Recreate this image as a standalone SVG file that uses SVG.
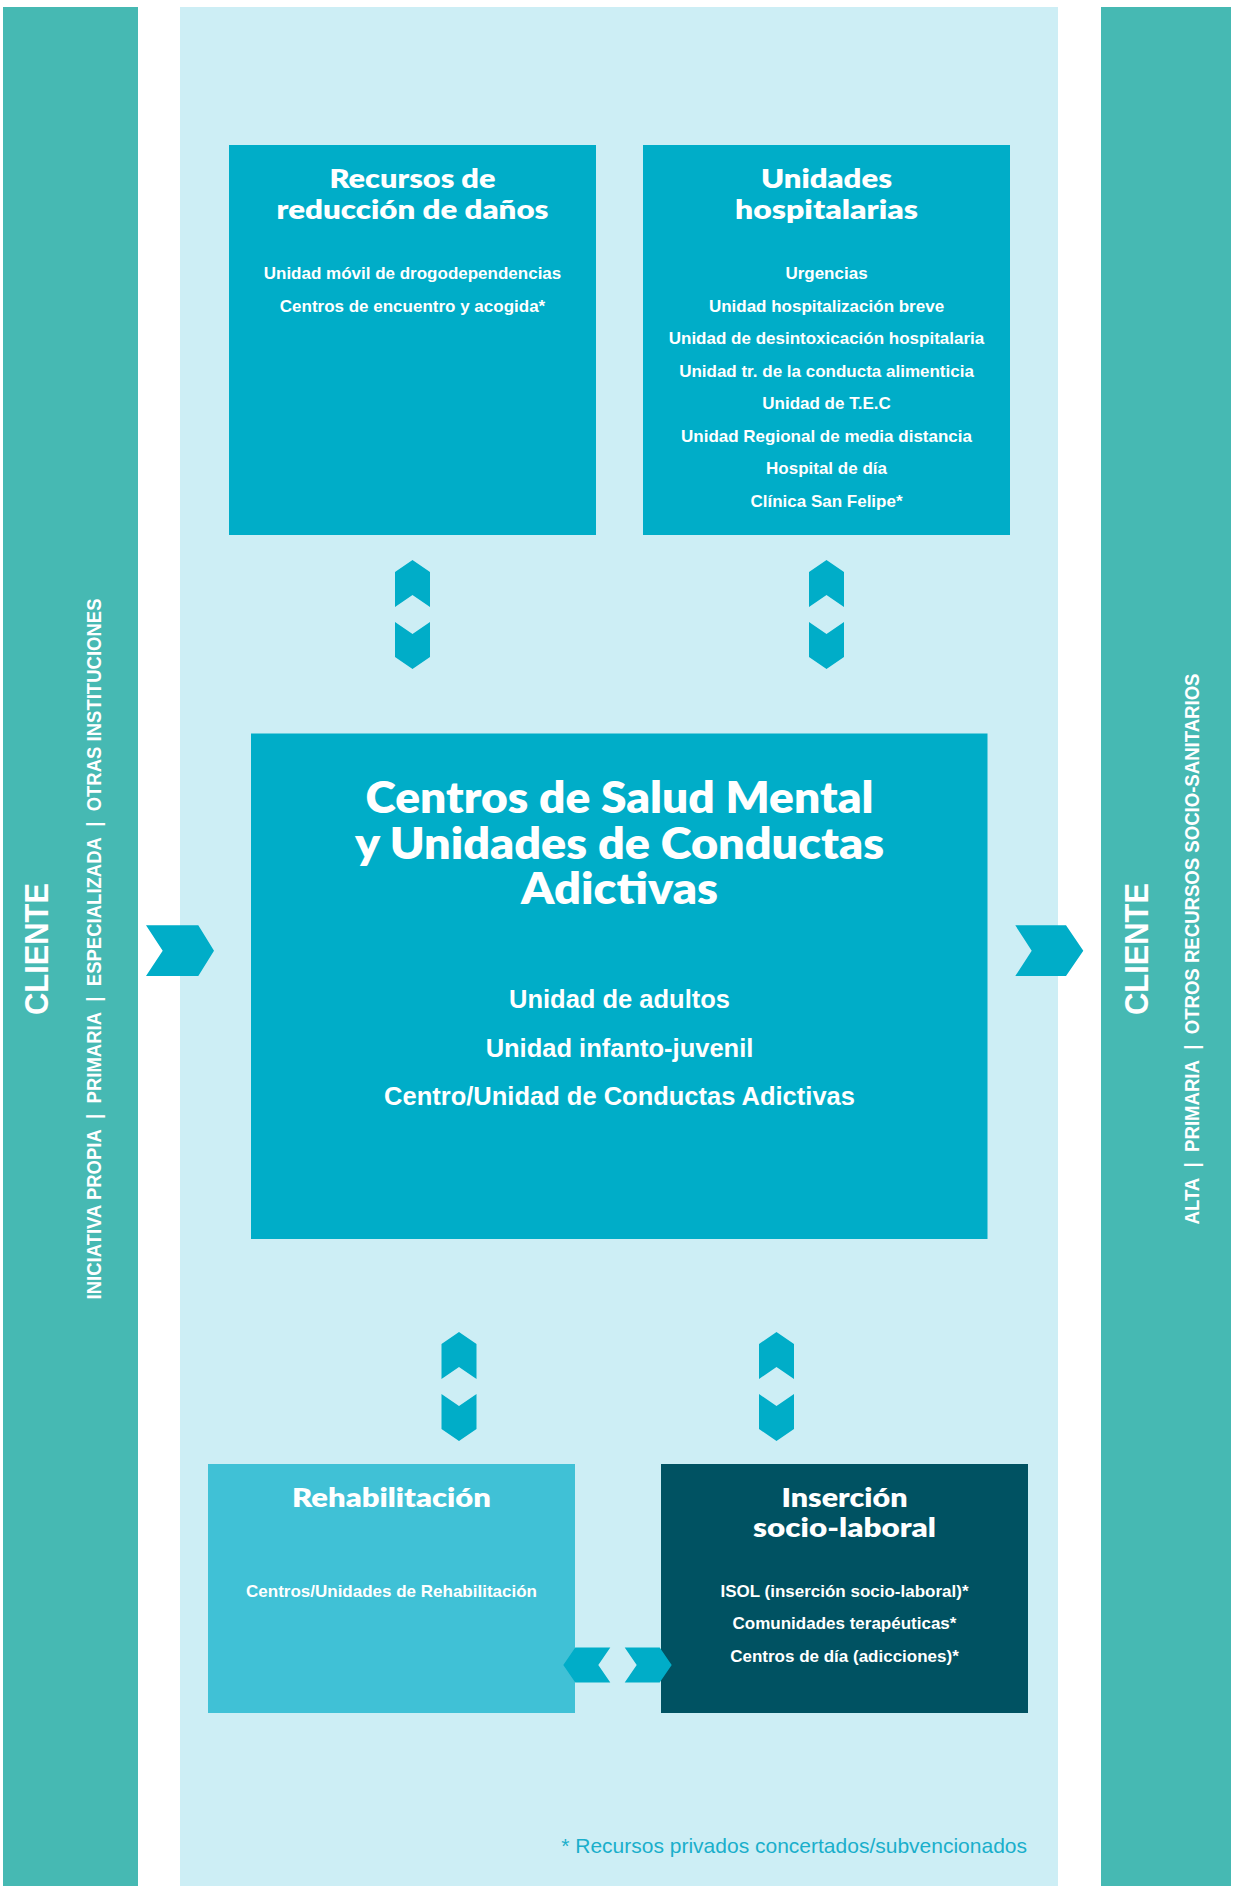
<svg xmlns="http://www.w3.org/2000/svg" width="1234" height="1886" viewBox="0 0 1234 1886">
<style>
.bar{fill:#46B9B3}
.bg{fill:#CDEEF5}
.box{fill:#00ADC8}
.rehab{fill:#40C1D6}
.dark{fill:#005262}
.chev{fill:#00ADC8}
.t{font-family:Lato,"DejaVu Sans",sans-serif;font-weight:800;fill:#fff;text-anchor:middle}
.i{font-family:"Liberation Sans",Arial,sans-serif;font-weight:bold;fill:#fff;text-anchor:middle;font-size:17px}
.ic{font-family:"Liberation Sans",Arial,sans-serif;font-weight:bold;fill:#fff;text-anchor:middle;font-size:25.5px}
.v{font-family:"Liberation Sans",Arial,sans-serif;font-weight:bold;fill:#fff;text-anchor:middle}
.fn{font-family:"Liberation Sans",Arial,sans-serif;fill:#1AAFCB;text-anchor:end;font-size:21px}
</style>
<defs>
<polygon id="up" points="0,0 17.5,12 17.5,47 0,35 -17.5,47 -17.5,12"/>
<polygon id="down" points="-17.5,0 0,12 17.5,0 17.5,35 0,47 -17.5,35"/>
<polygon id="left" points="0,0 12,-17.5 47,-17.5 35,0 47,17.5 12,17.5"/>
<polygon id="right" points="0,0 -12,-17.5 -47,-17.5 -35,0 -47,17.5 -12,17.5"/>
</defs>
<rect width="1234" height="1886" fill="#fff"/>
<rect class="bg" x="180" y="7" width="878" height="1879"/>

<g id="cliente-entrada">
<rect class="bar" x="3" y="7" width="135" height="1879"/>
<text class="v" font-size="34" transform="translate(47.5,949) rotate(-90)" textLength="132" lengthAdjust="spacingAndGlyphs">CLIENTE</text>
<text class="v" font-size="21" transform="translate(101,949) rotate(-90)" textLength="701" lengthAdjust="spacingAndGlyphs">INICIATIVA PROPIA&#160;&#160;|&#160;&#160;PRIMARIA&#160;&#160;|&#160;&#160;ESPECIALIZADA&#160;&#160;|&#160;&#160;OTRAS INSTITUCIONES</text>
</g>

<g id="cliente-salida">
<rect class="bar" x="1101" y="7" width="130" height="1879"/>
<text class="v" font-size="34" transform="translate(1148,949) rotate(-90)" textLength="132" lengthAdjust="spacingAndGlyphs">CLIENTE</text>
<text class="v" font-size="21" transform="translate(1199,949) rotate(-90)" textLength="551" lengthAdjust="spacingAndGlyphs">ALTA&#160;&#160;|&#160;&#160;PRIMARIA&#160;&#160;|&#160;&#160;OTROS RECURSOS SOCIO-SANITARIOS</text>
</g>

<g id="reduccion-danos">
<rect class="box" x="229" y="145" width="367" height="390"/>
<text class="t" font-size="26" x="412.5" y="188" textLength="166" lengthAdjust="spacingAndGlyphs">Recursos de</text>
<text class="t" font-size="26" x="412.5" y="219" textLength="272" lengthAdjust="spacingAndGlyphs">reducción de daños</text>
<text class="i" x="412.5" y="279">Unidad móvil de drogodependencias</text>
<text class="i" x="412.5" y="311.5">Centros de encuentro y acogida*</text>
</g>

<g id="unidades-hospitalarias">
<rect class="box" x="643" y="145" width="367" height="390"/>
<text class="t" font-size="26" x="826.5" y="188" textLength="131" lengthAdjust="spacingAndGlyphs">Unidades</text>
<text class="t" font-size="26" x="826.5" y="219" textLength="183" lengthAdjust="spacingAndGlyphs">hospitalarias</text>
<text class="i" x="826.5" y="279">Urgencias</text>
<text class="i" x="826.5" y="311.5">Unidad hospitalización breve</text>
<text class="i" x="826.5" y="344">Unidad de desintoxicación hospitalaria</text>
<text class="i" x="826.5" y="376.5">Unidad tr. de la conducta alimenticia</text>
<text class="i" x="826.5" y="409">Unidad de T.E.C</text>
<text class="i" x="826.5" y="441.5">Unidad Regional de media distancia</text>
<text class="i" x="826.5" y="474">Hospital de día</text>
<text class="i" x="826.5" y="506.5">Clínica San Felipe*</text>
</g>

<g id="centros-salud-mental">
<rect class="box" x="251" y="733.5" width="736.5" height="505.5"/>
<text class="t" font-size="43" x="619.5" y="813" textLength="508" lengthAdjust="spacingAndGlyphs">Centros de Salud Mental</text>
<text class="t" font-size="43" x="619.5" y="859" textLength="529" lengthAdjust="spacingAndGlyphs">y Unidades de Conductas</text>
<text class="t" font-size="43" x="619.5" y="904" textLength="197" lengthAdjust="spacingAndGlyphs">Adictivas</text>
<text class="ic" x="619.5" y="1008">Unidad de adultos</text>
<text class="ic" x="619.5" y="1057">Unidad infanto-juvenil</text>
<text class="ic" x="619.5" y="1105">Centro/Unidad de Conductas Adictivas</text>
</g>

<g id="rehabilitacion">
<rect class="rehab" x="208" y="1464" width="367" height="249"/>
<text class="t" font-size="26" x="391.5" y="1507" textLength="199" lengthAdjust="spacingAndGlyphs">Rehabilitación</text>
<text class="i" x="391.5" y="1596.5">Centros/Unidades de Rehabilitación</text>
</g>

<g id="insercion-sociolaboral">
<rect class="dark" x="661" y="1464" width="367" height="249"/>
<text class="t" font-size="26" x="844.5" y="1507" textLength="126" lengthAdjust="spacingAndGlyphs">Inserción</text>
<text class="t" font-size="26" x="844.5" y="1537" textLength="183" lengthAdjust="spacingAndGlyphs">socio-laboral</text>
<text class="i" x="844.5" y="1596.5">ISOL (inserción socio-laboral)*</text>
<text class="i" x="844.5" y="1629">Comunidades terapéuticas*</text>
<text class="i" x="844.5" y="1661.5">Centros de día (adicciones)*</text>
</g>

<g id="connectors" class="chev">
<polygon points="146,925.3 198.3,925.3 214,950.7 198.3,976 146,976 162.7,950.7"/>
<polygon points="1015.3,925.3 1066,925.3 1083.3,950.7 1066,976 1015.3,976 1031.7,950.7"/>
<use href="#up" x="412.5" y="560"/>
<use href="#down" x="412.5" y="622"/>
<use href="#up" x="826.5" y="560"/>
<use href="#down" x="826.5" y="622"/>
<use href="#up" x="459" y="1332"/>
<use href="#down" x="459" y="1394"/>
<use href="#up" x="776.5" y="1332"/>
<use href="#down" x="776.5" y="1394"/>
<use href="#left" x="563.3" y="1665"/>
<use href="#right" x="671.7" y="1665"/>
</g>

<text class="fn" x="1027" y="1853">* Recursos privados concertados/subvencionados</text>
</svg>
